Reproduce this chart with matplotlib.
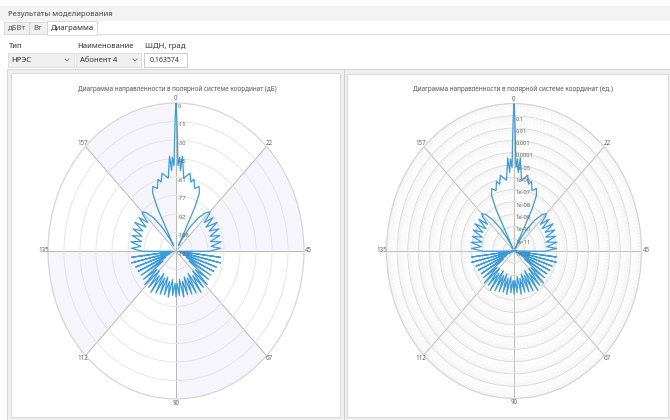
import numpy as np
import matplotlib.pyplot as plt
import matplotlib.ticker as mticker
from matplotlib.patches import Rectangle
from matplotlib.lines import Line2D

plt.rcParams['font.family'] = ['Noto Sans', 'DejaVu Sans']

W, H = 670, 420

# half of the (symmetric) pattern: chart angle 0..90 (the 0..180 scale spans the full circle), level in dB
theta_half = np.array([
    0, 0.2, 0.45, 0.75, 1.3, 1.8, 2.25, 3.5, 5.9, 7, 8.1, 9.5, 11.25, 12.5, 13.25, 14,
    15, 17, 19, 21, 22.5, 23.25,
    24.5, 26, 27.75, 29.5, 31.25, 33, 34.75, 36.5, 38.25, 40, 41.75, 43.5, 45.25,
    47, 48.5, 50, 51.5, 53, 54.5, 56, 57.5, 59, 60.5, 62,
    63.5, 65, 66.5, 68, 69.5, 71, 72.5, 74, 75.5, 77, 78.5, 80, 81.5, 83, 84.5,
    86, 87.5, 89, 90,
])
level_db_half = np.array([
    0, -12, -32, -52, -45, -56, -44, -62, -57, -64, -61, -68, -65, -70, -82, -118,
    -112, -99, -88, -80, -77, -79,
    -87, -78, -88, -77, -87, -78, -88, -79, -89, -79, -89, -80, -91,
    -120, -80, -121, -79, -118, -82, -116, -83, -112, -84, -108,
    -84, -99, -82, -100, -83, -97, -81, -101, -83, -98, -84, -100, -85, -97, -84,
    -99, -86, -96, -85,
])

angle_labels = ['0', '22', '45', '67', '90', '112', '135', '157']
db_ticks = [-123, -107.625, -92.25, -76.875, -61.5, -46.125, -30.75, -15.375, 0]
db_labels = ['-123', '-108', '-92', '-77', '-61', '-46', '-30', '-15', '0']
lin_ticks = [1e-12, 1e-11, 1e-10, 1e-9, 1e-8, 1e-7, 1e-6, 1e-5, 1e-4, 1e-3, 1e-2, 1e-1, 1]
lin_labels = ['1e-12', '1e-11', '1e-10', '1e-09', '1e-08', '1e-07', '1e-06',
              '1e-05', '0.0001', '0.001', '0.01', '0.1', '']

tab_names = ['дБВт', 'Вт', 'Диаграмма']
type_value = 'НРЭС'
name_value = 'Абонент 4'
width_value = '0.163574'
title_db = 'Диаграмма направленности в полярной системе координат (дБ)'
title_lin = 'Диаграмма направленности в полярной системе координат (ед.)'

# full pattern (mirror of the half)
theta_full = np.concatenate([theta_half, 180 - theta_half[::-1][1:]])
level_db_full = np.concatenate([level_db_half, level_db_half[::-1][1:]])
level_lin_full = np.maximum(10 ** (level_db_full / 10), 1e-12)

fig = plt.figure(figsize=(W / 100, H / 100), dpi=100, facecolor='white')


def fx(x):
    return x / W


def fy(y):
    return 1 - y / H


def rect(x0, y0, x1, y1, fc, ec='none', lw=0.8):
    fig.add_artist(Rectangle((fx(x0), fy(y1)), (x1 - x0) / W, (y1 - y0) / H,
                             transform=fig.transFigure, facecolor=fc,
                             edgecolor=ec, lw=lw, zorder=-5))


def label(x, y, s, size=5.5, color='#333333', ha='left'):
    fig.text(fx(x), fy(y), s, fontsize=size, color=color, ha=ha, va='center')


def chevron(x, y):
    fig.add_artist(Line2D([fx(x - 2), fx(x), fx(x + 2)], [fy(y - 1), fy(y + 1), fy(y - 1)],
                          transform=fig.transFigure, color='#777777', lw=0.6))


# header + tabs
rect(0, 6, W, 21, '#f3f3f3')
label(8, 14, 'Результаты моделирования', color='#444444')
rect(4, 22, 29, 34, '#f0f0f0', '#d4d4d4', 0.6)
rect(29, 22, 47, 34, '#f0f0f0', '#d4d4d4', 0.6)
rect(47, 20.5, 97, 34.5, 'white', '#d4d4d4', 0.6)
label(8, 28.5, tab_names[0], color='#555555')
label(33, 28.5, tab_names[1], color='#555555')
label(51, 28, tab_names[2], color='#333333')
fig.add_artist(Line2D([fx(97), fx(W)], [fy(34), fy(34)], transform=fig.transFigure,
                      color='#d4d4d4', lw=0.6))

# controls
label(9, 47, 'Тип')
label(77, 47, 'Наименование')
label(145, 47, 'ШДН, град')
rect(8, 53, 74, 67, '#f0f0f0', '#dadada', 0.6)
rect(76, 53, 141, 67, '#f0f0f0', '#dadada', 0.6)
rect(144, 53, 187, 67, 'white', '#c4c4c4', 0.6)
label(11, 60, type_value)
label(80, 60, name_value)
label(150, 60, width_value, size=5)
chevron(67, 60)
chevron(135, 60)

# panels
rect(7, 69, W, H, '#efefef', '#d0d0d0', 0.6)
rect(11, 73, 340, 417, 'white', '#dcdcdc', 0.8)
rect(347, 74, 668, 417, 'white', '#dcdcdc', 0.8)
fig.add_artist(Line2D([fx(344), fx(344)], [fy(70), fy(H)], transform=fig.transFigure,
                      color='#c8c8c8', lw=0.6))
label(177, 89, title_db, size=4.6, color='#555555', ha='center')
label(513, 89, title_lin, size=4.6, color='#555555', ha='center')


def polar_axes(cx, cy, rx, ry):
    ax = fig.add_axes([fx(cx - rx), fy(cy + ry), 2 * rx / W, 2 * ry / H], projection='polar')
    ax.set_aspect('auto')
    ax.set_theta_zero_location('N')
    ax.set_theta_direction(-1)
    ax.set_thetagrids(np.arange(0, 360, 45), [''] * 8)
    ax.tick_params(axis='x', length=0)
    ax.xaxis.grid(True, color='#b8b8b8', lw=0.7)
    ax.spines['polar'].set_color('#d4d4d4')
    ax.spines['polar'].set_linewidth(0.8)
    return ax


def angle_text(ax, rmax):
    for a, s in zip(np.arange(0, 360, 45), angle_labels):
        t = np.deg2rad(a)
        ax.annotate(s, xy=(t, rmax), xytext=(3.2 * np.sin(t), 3.2 * np.cos(t)),
                    textcoords='offset points', ha='center', va='center',
                    fontsize=4.5, color='#666666', annotation_clip=False)


def radial_labels(ax, ticks, labels):
    for r, s in zip(ticks, labels):
        ax.annotate(s, xy=(0, r), xytext=(1.2, -0.6), textcoords='offset points',
                    ha='left', va='top', fontsize=4.2, color='#666666',
                    annotation_clip=False, zorder=6)


# dB chart
ax1 = polar_axes(176, 251, 128, 148)
ax1.set_rlim(-123, 0)
ax1.set_yticks(db_ticks)
ax1.set_yticklabels([])
ax1.yaxis.grid(True, color='#e2e2e2', lw=0.6)
ax1.bar(np.deg2rad([67.5, 157.5, 247.5, 337.5]), 123, width=np.deg2rad(45), bottom=-123,
        color='#f5f5fb', lw=0, zorder=0.2)
ax1.plot(np.deg2rad(2 * theta_full), level_db_full, color='#3d9bd8', lw=0.9, zorder=3)
radial_labels(ax1, db_ticks, db_labels)
angle_text(ax1, 0)
ax1.set_rlim(-123, 0)

# linear (log) chart
ax2 = polar_axes(514, 251, 127.5, 147.5)
ax2.set_rscale('log')
ax2.set_rlim(1e-12, 1)
ax2.set_yticks(lin_ticks)
ax2.yaxis.set_minor_locator(mticker.LogLocator(base=10, subs=np.arange(2, 10), numticks=200))
ax2.yaxis.set_minor_formatter(mticker.NullFormatter())
ax2.set_yticklabels([])
ax2.yaxis.grid(True, which='major', color='#d6d6d6', lw=0.6)
ax2.yaxis.grid(True, which='minor', color='#e4e4e4', lw=0.4, ls=':')
ax2.plot(np.deg2rad(2 * theta_full), level_lin_full, color='#3d9bd8', lw=0.9, zorder=3)
radial_labels(ax2, lin_ticks, lin_labels)
angle_text(ax2, 1)
ax2.set_rlim(1e-12, 1)

fig.savefig('out.png', dpi=100)
